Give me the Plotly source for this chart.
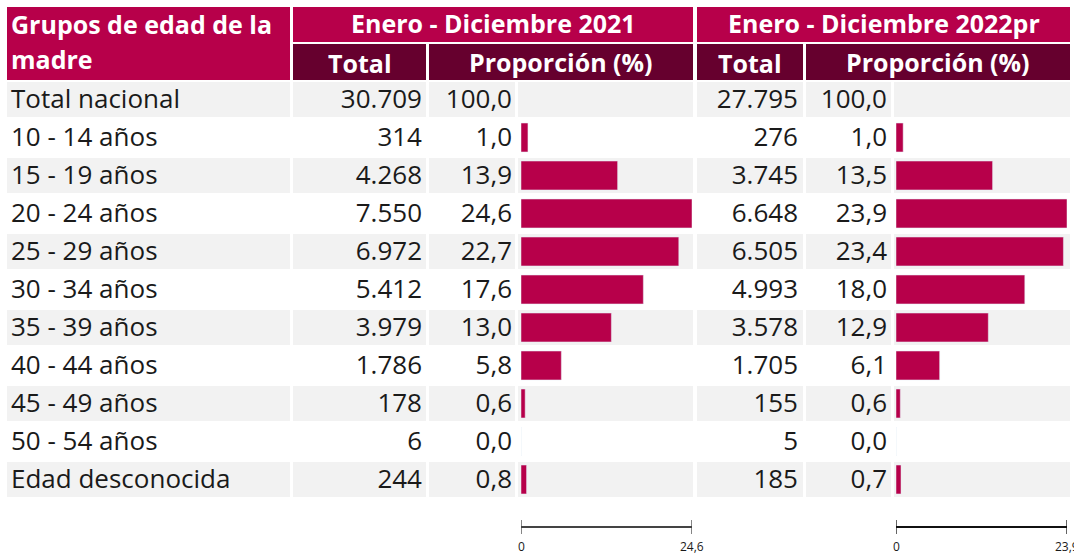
import plotly.graph_objects as go

# ---------------- data ----------------
groups = ["Total nacional", "10 - 14 años", "15 - 19 años", "20 - 24 años", "25 - 29 años",
          "30 - 34 años", "35 - 39 años", "40 - 44 años", "45 - 49 años", "50 - 54 años",
          "Edad desconocida"]
total_2021 = [30709, 314, 4268, 7550, 6972, 5412, 3979, 1786, 178, 6, 244]
pct_2021 = [100.0, 1.0, 13.9, 24.6, 22.7, 17.6, 13.0, 5.8, 0.6, 0.0, 0.8]
total_2022 = [27795, 276, 3745, 6648, 6505, 4993, 3578, 1705, 155, 5, 185]
pct_2022 = [100.0, 1.0, 13.5, 23.9, 23.4, 18.0, 12.9, 6.1, 0.6, 0.0, 0.7]
header_label = ["Grupos de edad de la", "madre"]
period_labels = ["Enero - Diciembre 2021", "Enero - Diciembre 2022pr"]
sub_labels = ["Total", "Proporción (%)"]

# ---------------- style ----------------
W, H = 1074, 554
MAGENTA = "#B7004A"
DARK = "#66002E"
GREY = "#F2F2F2"
TXT = "#1A1A1A"
FONT = "Open Sans"
BODY = 26
HEAD = 25


def fmt_int(v):
    return f"{v:,}".replace(",", ".")


def fmt_pct(v):
    return f"{v:.1f}".replace(".", ",")


# layout columns in pixels (cell left, cell right)
cols = {
    "label": (7, 290), "t21": (293, 426), "p21": (429, 515), "b21": (518, 693),
    "t22": (697, 803), "p22": (806, 891), "b22": (894, 1070),
}
ROW_TOP, ROW_H = 80.5, 38
TEXT_SHIFT = 2  # px: text baseline sits slightly lower than cell centre
n = len(groups)


def py(px):
    return 1 - px / H


fig = go.Figure()

# bars
bar_max21 = max(pct_2021[1:])
bar_max22 = max(pct_2022[1:])
fig.add_trace(go.Bar(x=pct_2021[1:], y=groups[1:], orientation="h", marker_color=MAGENTA,
                     xaxis="x2", yaxis="y2", hoverinfo="skip", showlegend=False))
fig.add_trace(go.Bar(x=pct_2022[1:], y=groups[1:], orientation="h", marker_color=MAGENTA,
                     xaxis="x3", yaxis="y2", hoverinfo="skip", showlegend=False))

# row text
def text_col(xpos, texts, pos):
    fig.add_trace(go.Scatter(x=[xpos] * n, y=groups, mode="text", text=texts,
                             textposition=pos, textfont=dict(family=FONT, size=BODY, color=TXT),
                             xaxis="x", yaxis="y3", hoverinfo="skip", showlegend=False,
                             cliponaxis=False))

text_col(11, groups, "middle right")
text_col(422, [fmt_int(v) for v in total_2021], "middle left")
text_col(512, [fmt_pct(v) for v in pct_2021], "middle left")
text_col(798, [fmt_int(v) for v in total_2022], "middle left")
text_col(887, [fmt_pct(v) for v in pct_2022], "middle left")

shapes = []
# row backgrounds
for i in range(n):
    if i % 2 == 0:
        for key, (x0, x1) in cols.items():
            shapes.append(dict(type="rect", xref="x", yref="y2", x0=x0, x1=x1,
                               y0=i - 0.46, y1=i + 0.46, fillcolor=GREY, line_width=0,
                               layer="below"))

# header cells (pixel coords via axis y)
def rect(x0, x1, y0, y1, color):
    shapes.append(dict(type="rect", xref="x", yref="y", x0=x0, x1=x1, y0=y0, y1=y1,
                       fillcolor=color, line_width=0, layer="below"))

rect(7, 290, 7, 80, MAGENTA)
rect(293, 693, 7, 42, MAGENTA)
rect(697, 1070, 7, 42, MAGENTA)
rect(293, 426, 44, 80, DARK)
rect(429, 693, 44, 80, DARK)
rect(697, 803, 44, 80, DARK)
rect(806, 1070, 44, 80, DARK)

head_font = dict(family=FONT, size=HEAD, color="white", weight="bold")
annotations = []
def head(x, y, text, xanchor="center"):
    annotations.append(dict(xref="x", yref="y", x=x, y=y, text=text, showarrow=False,
                            xanchor=xanchor, yanchor="middle", font=head_font))

head(9, 24, header_label[0], "left")
head(9, 59, header_label[1], "left")
head((293 + 693) / 2, 23, period_labels[0])
head((697 + 1070) / 2, 23, period_labels[1])
head((293 + 426) / 2, 63, sub_labels[0])
head((429 + 693) / 2, 62, sub_labels[1])
head((697 + 803) / 2, 63, sub_labels[0])
head((806 + 1070) / 2, 62, sub_labels[1])

# scale bars under bar columns
for xa, mx, col in (("x2", bar_max21, "#444444"), ("x3", bar_max22, "#111111")):
    shapes.append(dict(type="line", xref=xa, yref="y", x0=0, x1=mx, y0=527, y1=527,
                       line=dict(color=col, width=1.8)))
    for xv in (0, mx):
        shapes.append(dict(type="line", xref=xa, yref="y", x0=xv, x1=xv, y0=520, y1=534,
                           line=dict(color=col, width=1.3)))
        annotations.append(dict(xref=xa, yref="y", x=xv, y=546, text=fmt_pct(xv) if xv else "0",
                                showarrow=False, xanchor="center", yanchor="middle",
                                borderpad=0, font=dict(family=FONT, size=12, color=TXT)))

ydom = [py(ROW_TOP + ROW_H * n), py(ROW_TOP)]
ydom_txt = [py(ROW_TOP + ROW_H * n + TEXT_SHIFT), py(ROW_TOP + TEXT_SHIFT)]
cat_axis = dict(type="category", categoryorder="array", categoryarray=groups,
                range=[n - 0.5, -0.5], visible=False)
fig.update_layout(
    width=W, height=H, margin=dict(l=0, r=0, t=0, b=0),
    paper_bgcolor="white", plot_bgcolor="rgba(0,0,0,0)",
    bargap=0.24, shapes=shapes, annotations=annotations,
    xaxis=dict(domain=[0, 1], range=[0, W], visible=False, anchor="y", fixedrange=True),
    yaxis=dict(domain=[0, 1], range=[H, 0], visible=False, anchor="x", fixedrange=True),
    xaxis2=dict(domain=[521 / W, 692 / W], range=[0, bar_max21], visible=False, anchor="y2"),
    xaxis3=dict(domain=[896 / W, 1067 / W], range=[0, bar_max22], visible=False, anchor="y2"),
    yaxis2=dict(domain=ydom, anchor="x2", **cat_axis),
    yaxis3=dict(domain=ydom_txt, anchor="x", **cat_axis),
    font=dict(family=FONT, color=TXT),
)

fig.write_html("out.html", config={"displayModeBar": False, "staticPlot": True},
               post_script="document.body.style.margin='0';")
